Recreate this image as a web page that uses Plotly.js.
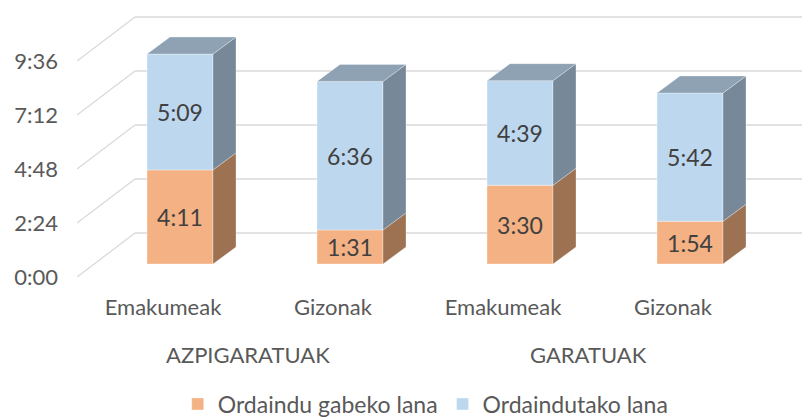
<!DOCTYPE html>
<html>
<head>
<meta charset="utf-8">
<script src="https://cdn.plot.ly/plotly-3.0.1.min.js"></script>
<style>html,body{margin:0;padding:0;background:#fff}#chart{width:802px;height:420px}</style>
</head>
<body>
<div id="chart"></div>
<script>
// ---- data ----
const categories = ['Emakumeak', 'Gizonak', 'Emakumeak', 'Gizonak'];
const groups = ['AZPIGARATUAK', 'GARATUAK'];
const unpaidLabels = ['4:11', '1:31', '3:30', '1:54'];   // Ordaindu gabeko lana
const paidLabels   = ['5:09', '6:36', '4:39', '5:42'];   // Ordaindutako lana
const tickLabels = ['0:00', '2:24', '4:48', '7:12', '9:36'];
const seriesNames = ['Ordaindu gabeko lana', 'Ordaindutako lana'];

const toMin = s => { const [h, m] = s.split(':').map(Number); return h * 60 + m; };
const unpaid = unpaidLabels.map(toMin);
const paid = paidLabels.map(toMin);
const ticks = tickLabels.map(toMin);

// ---- geometry (pixel based, converted into axis units) ----
const PX_PER_UNIT = 170;     // x pixels per category
const PX_PER_MIN = 0.375;    // y pixels per minute
const L = 77, R = 0, T = 10, B = 143;
const W = 802, H = 420;
const plotW = W - L - R, plotH = H - T - B;
const x0px = 180 - L;                        // category 0 center in plot px
const xRange = [-x0px / PX_PER_UNIT, (plotW - x0px) / PX_PER_UNIT];
const FRONT_OFF = 13 / PX_PER_MIN;           // front floor below bar base
const yRange = [-FRONT_OFF, -FRONT_OFF + plotH / PX_PER_MIN];
const wallDX = 58 / PX_PER_UNIT, wallDY = 44 / PX_PER_MIN;
const barDX = 23 / PX_PER_UNIT, barDY = 17 / PX_PER_MIN;
const barW = 66 / PX_PER_UNIT;
const labelShift = -17 / PX_PER_UNIT;

const FONT = 'Lato, sans-serif';
const FS = 23;
const xs = categories.map((_, i) => i);
const cOrange = '#F4B183', cOrangeSide = '#9C7252';
const cBlue = '#BDD7EE', cBlueSide = '#778899', cBlueTop = '#8EA2B4';

const traces = [];
// side/top faces
function poly(px, py, color) {
  traces.push({type: 'scatter', mode: 'lines', x: px, y: py, fill: 'toself',
    fillcolor: color, line: {width: 0.6, color: 'rgba(255,255,255,0.5)'},
    hoverinfo: 'skip', showlegend: false});
}
xs.forEach((x, i) => {
  const xl = x - barW / 2, xr = x + barW / 2;
  const y1 = unpaid[i], y2 = unpaid[i] + paid[i];
  poly([xr, xr + barDX, xr + barDX, xr, xr], [0, barDY, y1 + barDY, y1, 0], cOrangeSide);
  poly([xr, xr + barDX, xr + barDX, xr, xr], [y1, y1 + barDY, y2 + barDY, y2, y1], cBlueSide);
  poly([xl, xl + barDX, xr + barDX, xr, xl], [y2, y2 + barDY, y2 + barDY, y2, y2], cBlueTop);
});
// front faces
traces.push({type: 'bar', x: xs, y: unpaid, base: 0, width: barW, name: seriesNames[0],
  marker: {color: cOrange, line: {width: 0.6, color: 'rgba(255,255,255,0.6)'}},
  text: unpaidLabels, textposition: 'inside', insidetextanchor: 'middle', constraintext: 'none',
  textfont: {color: '#404040', size: FS, family: FONT}, hoverinfo: 'skip'});
traces.push({type: 'bar', x: xs, y: paid, base: unpaid, width: barW, name: seriesNames[1],
  marker: {color: cBlue, line: {width: 0.6, color: 'rgba(255,255,255,0.6)'}},
  text: paidLabels, textposition: 'inside', insidetextanchor: 'middle', constraintext: 'none',
  textfont: {color: '#404040', size: FS, family: FONT}, hoverinfo: 'skip'});

// gridlines: back wall + diagonal
const shapes = [];
ticks.forEach(t => {
  const yf = t - FRONT_OFF, yb = yf + wallDY;
  shapes.push({type: 'line', xref: 'x', yref: 'y', x0: xRange[0], y0: yf, x1: xRange[0] + wallDX, y1: yb,
    line: {color: '#D9D9D9', width: 1.3}, layer: 'below'});
  shapes.push({type: 'line', xref: 'x', yref: 'y', x0: xRange[0] + wallDX, y0: yb, x1: xRange[1], y1: yb,
    line: {color: '#D9D9D9', width: 1.3}, layer: 'below'});
});

const annotations = groups.map((g, k) => ({
  text: g, xref: 'x', yref: 'paper', x: 2 * k + 0.5 + labelShift, y: 0, yshift: -77,
  yanchor: 'middle', xanchor: 'center',
  showarrow: false, font: {family: FONT, size: FS - 1, color: '#595959'}
}));

const layout = {
  width: W, height: H,
  margin: {l: L, r: R, t: T, b: B, autoexpand: false},
  paper_bgcolor: '#fff', plot_bgcolor: 'rgba(0,0,0,0)',
  barmode: 'overlay',
  showlegend: true,
  legend: {orientation: 'h', x: 0.481, xanchor: 'center', xref: 'paper',
    y: 16 / H, yref: 'container', yanchor: 'middle',
    font: {family: FONT, size: FS, color: '#595959'}, traceorder: 'normal',
    itemwidth: 30},
  xaxis: {range: xRange, showgrid: false, zeroline: false, showline: false, automargin: false,
    tickvals: xs.map(x => x + labelShift), ticktext: categories, ticks: '', ticklabelstandoff: 15,
    tickfont: {family: FONT, size: FS - 1, color: '#595959'}, fixedrange: true},
  yaxis: {range: yRange, showgrid: false, zeroline: false, showline: false, automargin: false,
    tickvals: ticks.map(t => t - FRONT_OFF), ticktext: tickLabels, ticks: '', ticklabelstandoff: 18,
    tickfont: {family: FONT, size: FS - 1, color: '#595959'}, fixedrange: true},
  shapes, annotations
};

Plotly.newPlot('chart', traces, layout, {displayModeBar: false, staticPlot: true});
</script>
</body>
</html>
